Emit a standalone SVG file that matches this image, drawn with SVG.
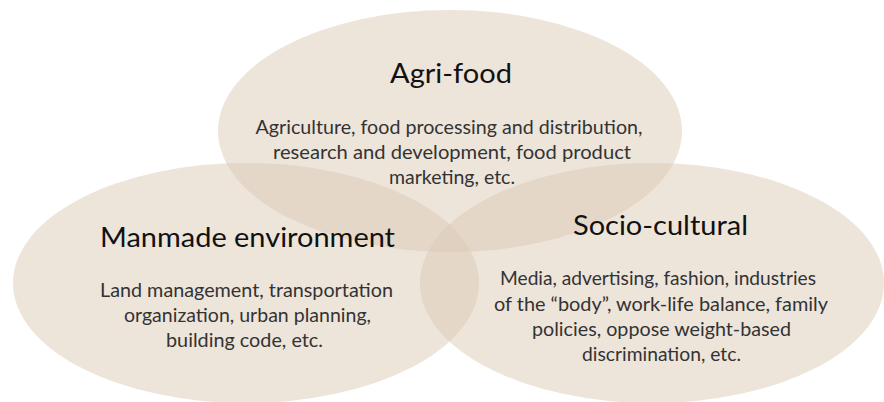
<svg xmlns="http://www.w3.org/2000/svg" width="884" height="402" viewBox="0 0 884 402">
<style>
.blob{fill:#dbc9b5;fill-opacity:0.5}
.title{font-family:Lato,"Open Sans","Liberation Sans",sans-serif;font-size:27px;fill:#111;text-anchor:middle}
.body{font-family:Lato,"Open Sans","Liberation Sans",sans-serif;font-size:19px;fill:#333;text-anchor:middle}
</style>
<rect width="884" height="402" fill="#fff"/>
<g id="agri-food">
<ellipse class="blob" cx="450" cy="131" rx="232" ry="121"/>
</g>
<g id="manmade-environment">
<ellipse class="blob" cx="246" cy="283" rx="233" ry="120"/>
</g>
<g id="socio-cultural">
<ellipse class="blob" cx="652" cy="283" rx="232" ry="120"/>
</g>
<g id="labels" lengthAdjust="spacingAndGlyphs">
<text class="title" x="451" y="83" textLength="122" lengthAdjust="spacingAndGlyphs">Agri-food</text>
<text class="body" x="449" y="134" textLength="387" lengthAdjust="spacingAndGlyphs">Agriculture, food processing and distribution,</text>
<text class="body" x="452" y="159" textLength="358" lengthAdjust="spacingAndGlyphs">research and development, food product</text>
<text class="body" x="452" y="184" textLength="126" lengthAdjust="spacingAndGlyphs">marketing, etc.</text>
<text class="title" x="247.5" y="247" textLength="295" lengthAdjust="spacingAndGlyphs">Manmade environment</text>
<text class="body" x="246.5" y="297" textLength="293" lengthAdjust="spacingAndGlyphs">Land management, transportation</text>
<text class="body" x="247.5" y="322" textLength="247" lengthAdjust="spacingAndGlyphs">organization, urban planning,</text>
<text class="body" x="244.5" y="347" textLength="157" lengthAdjust="spacingAndGlyphs">building code, etc.</text>
<text class="title" x="660.5" y="235" textLength="175" lengthAdjust="spacingAndGlyphs">Socio-cultural</text>
<text class="body" x="658" y="285" textLength="316" lengthAdjust="spacingAndGlyphs">Media, advertising, fashion, industries</text>
<text class="body" x="661" y="311" textLength="334" lengthAdjust="spacingAndGlyphs">of the “body”, work-life balance, family</text>
<text class="body" x="661.5" y="336" textLength="259" lengthAdjust="spacingAndGlyphs">policies, oppose weight-based</text>
<text class="body" x="661.5" y="361" textLength="159" lengthAdjust="spacingAndGlyphs">discrimination, etc.</text>
</g>
<g id="connectors"/>
</svg>
